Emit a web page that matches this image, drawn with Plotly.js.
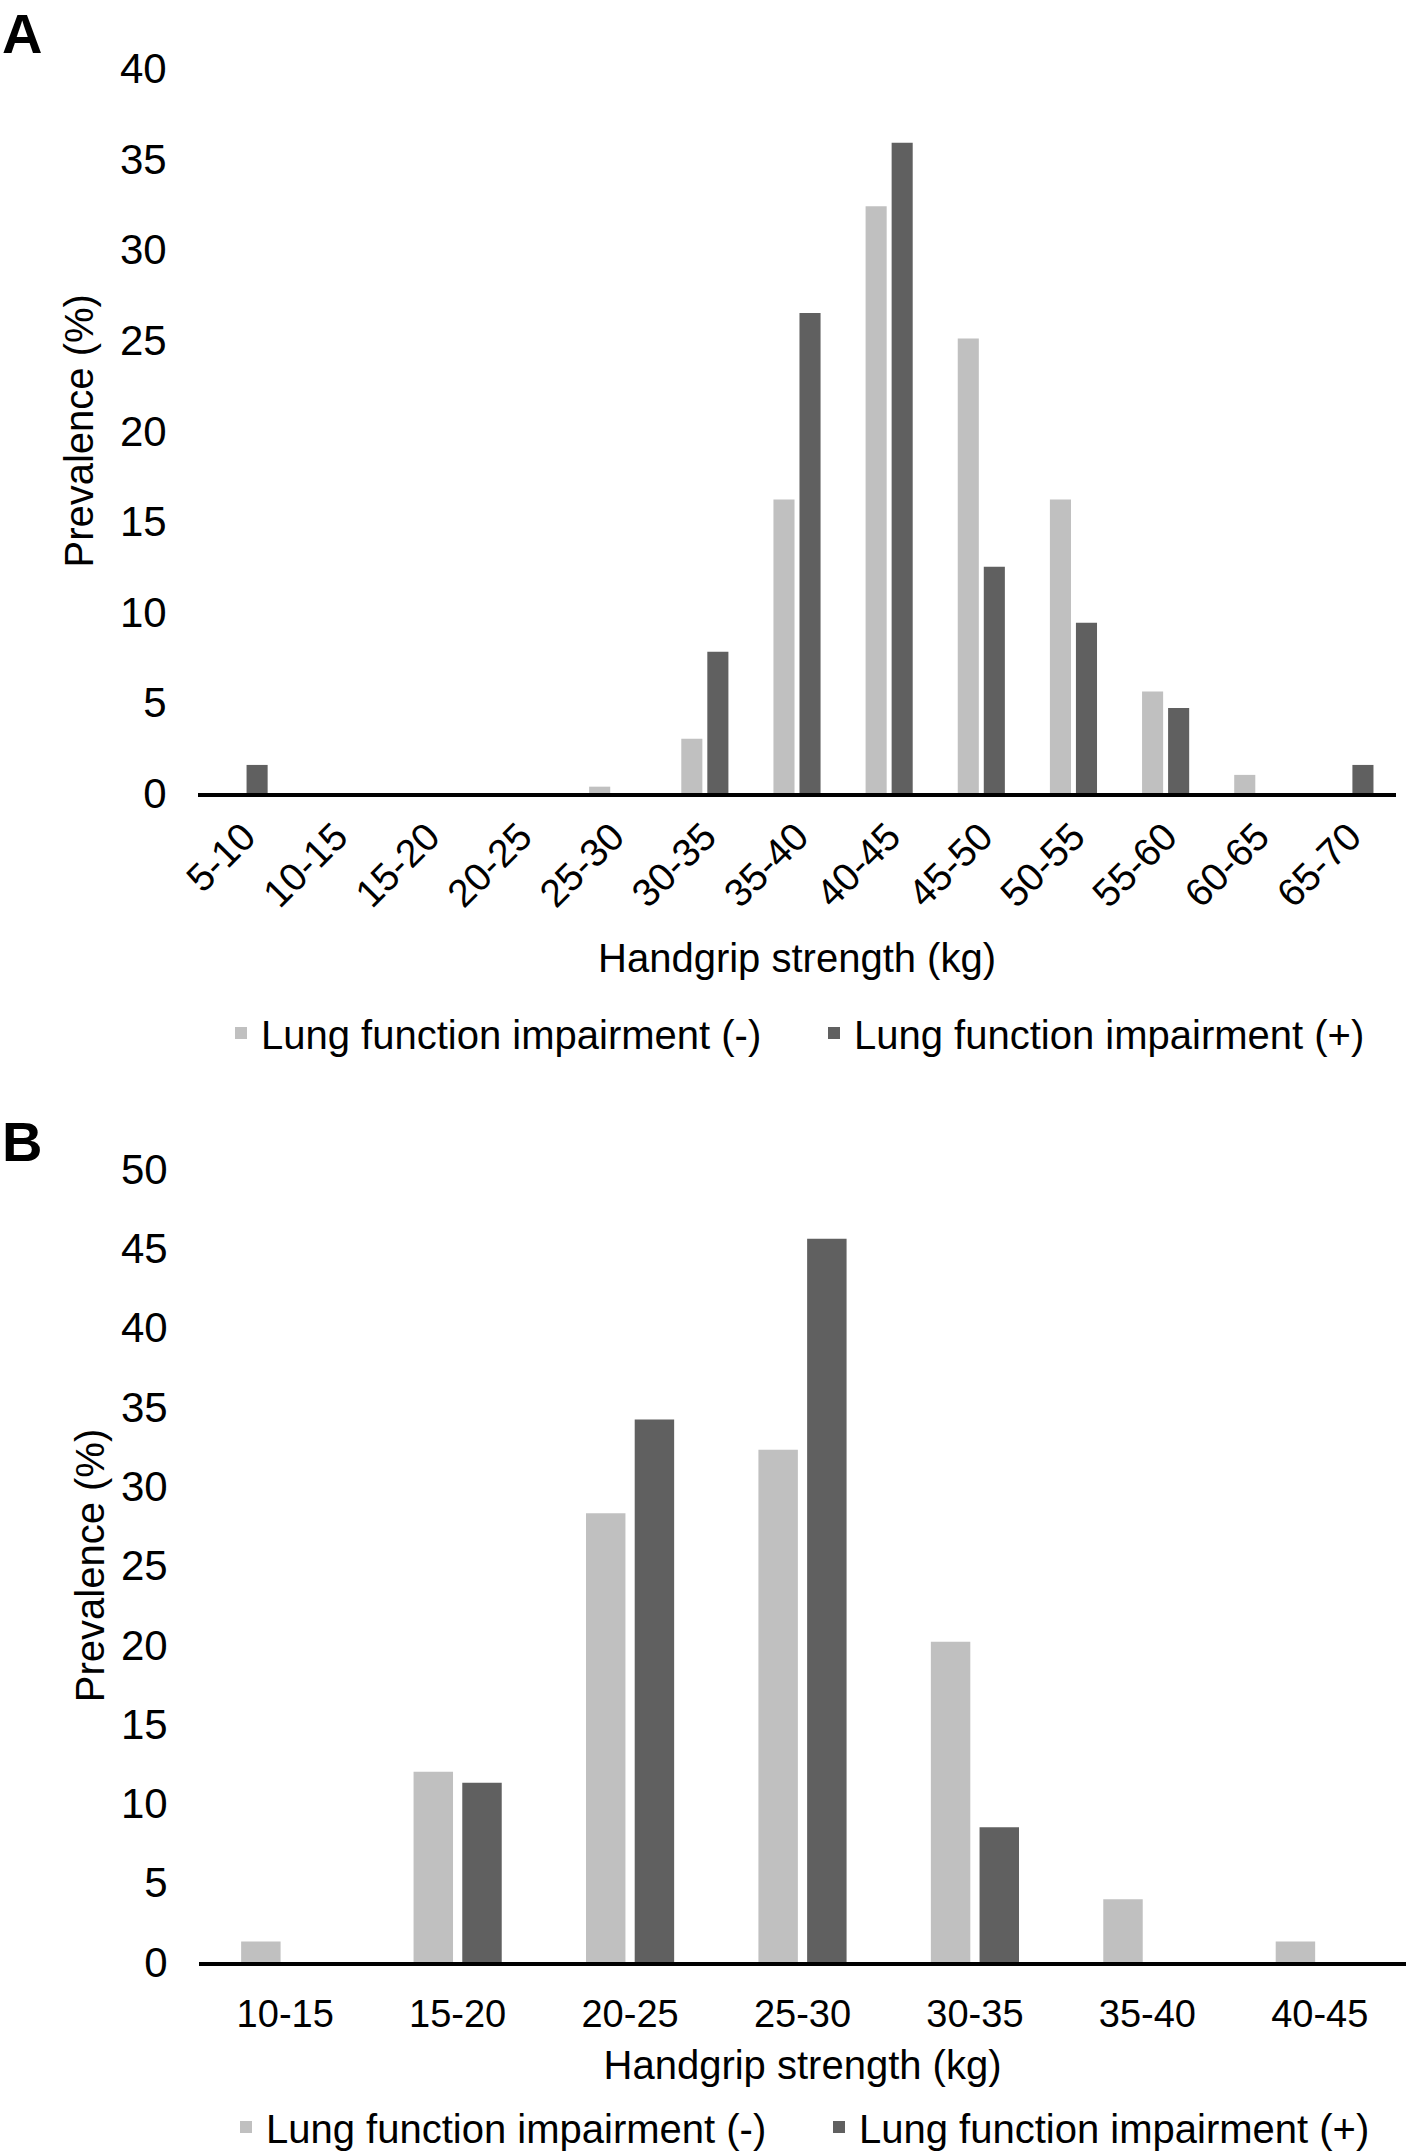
<!DOCTYPE html>
<html>
<head>
<meta charset="utf-8">
<script src="https://cdn.plot.ly/plotly-3.0.1.min.js"></script>
<style>
html,body{margin:0;padding:0;background:#fff;}
#chart{width:1416px;height:2152px;}
</style>
</head>
<body>
<div id="chart"></div>
<script>
// ---- data ----
const categoriesA = ['5-10','10-15','15-20','20-25','25-30','30-35','35-40','40-45','45-50','50-55','55-60','60-65','65-70'];
const negA = [0, 0, 0, 0, 0.35, 3.0, 16.2, 32.4, 25.1, 16.2, 5.6, 1.0, 0];
const posA = [1.55, 0, 0, 0, 0, 7.8, 26.5, 35.9, 12.5, 9.4, 4.7, 0, 1.55];

const categoriesB = ['10-15','15-20','20-25','25-30','30-35','35-40','40-45'];
const negB = [1.3, 12.0, 28.3, 32.3, 20.2, 3.95, 1.3];
const posB = [0, 11.3, 34.2, 45.6, 8.5, 0, 0];

const seriesNames = ['Lung function impairment (-)', 'Lung function impairment (+)'];
const yTicksA = [0, 5, 10, 15, 20, 25, 30, 35, 40];
const yTicksB = [0, 5, 10, 15, 20, 25, 30, 35, 40, 45, 50];
const panelLabels = ['A', 'B'];
const xTitle = 'Handgrip strength (kg)';
const yTitle = 'Prevalence (%)';

// ---- styles ----
const W = 1416, H = 2152;
const colNeg = '#c0c0c0', colPos = '#606060';
const FONT = 'Liberation Sans, Arial, Helvetica, sans-serif';
const px = v => v / W;
const py = v => 1 - v / H;

const traces = [
  {type:'bar', x:categoriesA, y:negA, name:seriesNames[0], xaxis:'x', yaxis:'y', legend:'legend',
   marker:{color:colNeg}, hoverinfo:'x+y+name'},
  {type:'bar', x:categoriesA, y:posA, name:seriesNames[1], xaxis:'x', yaxis:'y', legend:'legend',
   marker:{color:colPos}, hoverinfo:'x+y+name'},
  {type:'bar', x:categoriesB, y:negB, name:seriesNames[0], xaxis:'x2', yaxis:'y2', legend:'legend2',
   marker:{color:colNeg}, hoverinfo:'x+y+name'},
  {type:'bar', x:categoriesB, y:posB, name:seriesNames[1], xaxis:'x2', yaxis:'y2', legend:'legend2',
   marker:{color:colPos}, hoverinfo:'x+y+name'}
];

const xCommon = {
  type:'category', showline:true, linecolor:'#000', linewidth:4,
  ticks:'outside', tickcolor:'rgba(0,0,0,0)',
  showgrid:false, zeroline:false, fixedrange:true, automargin:false
};
const yCommon = {
  showline:false, showgrid:false, zeroline:false,
  ticks:'outside', ticklen:22, tickcolor:'rgba(0,0,0,0)',
  tickfont:{size:42, color:'#000'}, fixedrange:true, automargin:false
};

const legendCommon = {
  orientation:'h', xanchor:'left',
  font:{size:40, color:'#000', family:FONT}, bgcolor:'rgba(0,0,0,0)',
  itemwidth:30, entrywidth:548, itemclick:false, itemdoubleclick:false
};

const layout = {
  width:W, height:H,
  margin:{l:0, r:0, t:0, b:0, pad:0, autoexpand:false},
  paper_bgcolor:'#fff', plot_bgcolor:'#fff',
  font:{family:FONT, color:'#000'},
  barmode:'group', bargap:0.435, bargroupgap:0.19,
  showlegend:true,
  xaxis:Object.assign({}, xCommon, {
    domain:[px(198), px(1396)], anchor:'y', tickangle:-45, ticklen:1,
    tickfont:{size:39, color:'#000'},
    title:{text:xTitle, font:{size:40, color:'#000'}, standoff:31}
  }),
  yaxis:Object.assign({}, yCommon, {
    domain:[py(793), py(68.6)], anchor:'x', range:[0, 40], tickvals:yTicksA,
    title:{text:yTitle, font:{size:40, color:'#000'}, standoff:13}
  }),
  xaxis2:Object.assign({}, xCommon, {
    domain:[px(199), px(1406)], anchor:'y2', tickangle:0, ticklen:15,
    tickfont:{size:38, color:'#000'},
    title:{text:xTitle, font:{size:40, color:'#000'}, standoff:18}
  }),
  yaxis2:Object.assign({}, yCommon, {
    domain:[py(1962), py(1169)], anchor:'x2', range:[0, 50], tickvals:yTicksB,
    title:{text:yTitle, font:{size:40, color:'#000'}, standoff:3}
  }),
  legend:Object.assign({}, legendCommon, {x:px(221), y:py(1033), yanchor:'middle'}),
  legend2:Object.assign({}, legendCommon, {x:px(226), y:py(2127), yanchor:'middle'}),
  annotations:[
    {text:'<b>' + panelLabels[0] + '</b>', xref:'paper', yref:'paper', x:0, y:1,
     xanchor:'left', yanchor:'top', showarrow:false, font:{size:56, color:'#000'}},
    {text:'<b>' + panelLabels[1] + '</b>', xref:'paper', yref:'paper', x:0, y:py(1108),
     xanchor:'left', yanchor:'top', showarrow:false, font:{size:56, color:'#000'}}
  ]
};

Plotly.newPlot('chart', traces, layout, {displayModeBar:false, responsive:false});
</script>
</body>
</html>
